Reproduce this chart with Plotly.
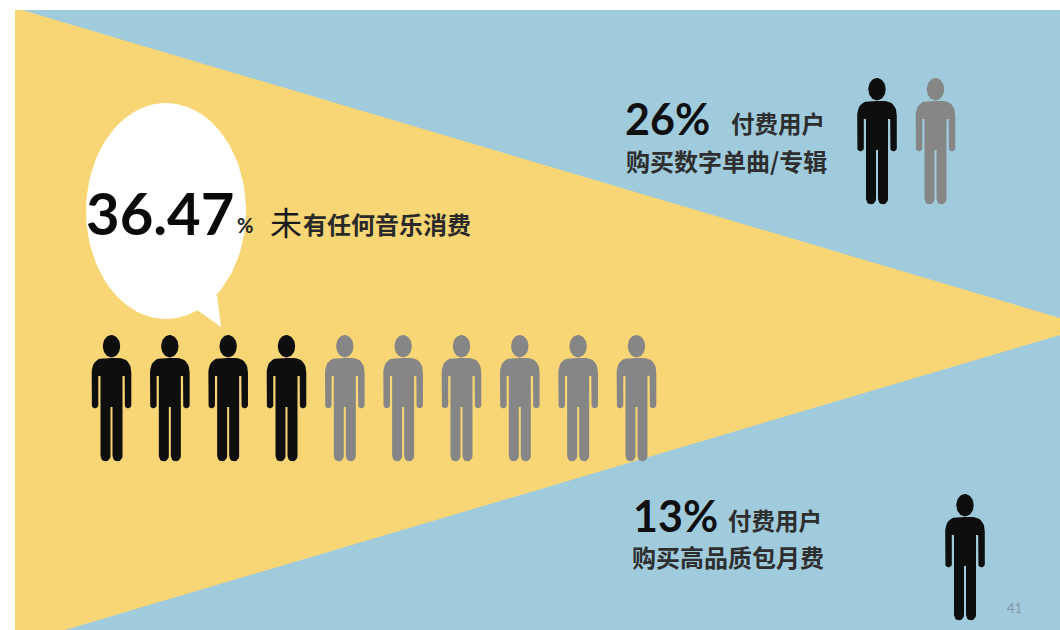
import numpy as np
import plotly.graph_objects as go

# Share of users in each group and the pictogram counts that illustrate it
no_spend_pct = "36.47"
digital_pct = "26%"
monthly_pct = "13%"
no_spend_people = [4, 6]   # black, grey
digital_people = [1, 1]
monthly_people = [1, 0]

no_spend_big = "未"
no_spend_rest = "有任何音乐消费"
paying_label = "付费用户"
digital_label = "购买数字单曲/专辑"
monthly_label = "购买高品质包月费"
page_number = "41"

BLUE = "#A0CBDD"
YELLOW = "#F8D675"
BLACK = "#0E0E0E"
GREY = "#868686"
LATIN = "Lato, 'Noto Sans', sans-serif"
CJK = "'Noto Sans CJK SC', sans-serif"

W, H = 1060, 630


def bezier(p0, p1, p2, p3, n=10):
    t = np.linspace(0, 1, n)[1:, None]
    p0, p1, p2, p3 = map(np.asarray, (p0, p1, p2, p3))
    return (1 - t) ** 3 * p0 + 3 * (1 - t) ** 2 * t * p1 + 3 * (1 - t) * t ** 2 * p2 + t ** 3 * p3


def half_outline():
    """Left half of the figure's body, from the neck to the inner leg."""
    pts = [np.array([[0.0, 23.0], [-7.0, 23.0]])]
    pts.append(bezier((-7, 23), (-15, 23), (-19.8, 28), (-19.8, 38)))
    pts.append(np.array([[-19.8, 70.0]]))
    pts.append(bezier((-19.8, 70), (-19.8, 74.5), (-13.2, 74.5), (-13.2, 70)))
    pts.append(np.array([[-13.2, 41.0], [-11.0, 41.0], [-11.0, 121.0]]))
    pts.append(bezier((-11.0, 121), (-11.0, 128), (-1.0, 128), (-1.0, 121)))
    pts.append(np.array([[-1.0, 72.0], [0.0, 72.0]]))
    return np.vstack(pts)


def person(cx, top):
    """Polygons of one standing figure: body, then head, split by a gap."""
    left = half_outline()
    right = left[::-1] * np.array([-1.0, 1.0])
    body = np.vstack([left, right])
    theta = np.linspace(0, 2 * np.pi, 48)
    xs = list(cx + body[:, 0]) + [None] + list(cx + 8.7 * np.cos(theta)) + [None]
    ys = list(top + body[:, 1]) + [None] + list(top + 11.2 + 11.2 * np.sin(theta)) + [None]
    return xs, ys


def row(counts, start, step, top):
    """Coordinates of a row of figures, split into (black, grey)."""
    out = []
    index = 0
    for count in counts:
        xs, ys = [], []
        for _ in range(count):
            px, py = person(start + index * step, top)
            xs += px
            ys += py
            index += 1
        out.append((xs, ys))
    return out


fig = go.Figure()


def polygon(xs, ys, color):
    fig.add_trace(go.Scatter(x=xs, y=ys, mode="lines", fill="toself", fillcolor=color,
                             line=dict(width=0, color=color), hoverinfo="skip", showlegend=False))


# Backdrop: blue panel with a yellow wedge narrowing to the right
polygon([15, W, W, 15, 15], [10, 10, H, H, 10], BLUE)
polygon([15, 22, W, W, 65, 15, 15], [10, 10, 318, 335, H, H, 10], YELLOW)

# Speech bubble
theta = np.linspace(0, 2 * np.pi, 120)
polygon(list(166 + 80 * np.cos(theta)), list(211 + 108 * np.sin(theta)), "#FFFFFF")
polygon([197, 221, 217, 197], [310, 327, 295, 310], "#FFFFFF")

# Pictograms
for counts, start, step, top in [
    (no_spend_people, 111.5, 58.33, 335),
    (digital_people, 877, 58.5, 78),
    (monthly_people, 965, 0, 494),
]:
    groups = row(counts, start, step, top)
    for (xs, ys), color in zip(groups, (BLACK, GREY)):
        if xs:
            polygon(xs, ys, color)


def label(x, y, text, size, family, color="#111111", bold=True):
    fig.add_annotation(x=x, y=y, xref="x", yref="y", text=text, showarrow=False,
                       xanchor="left", yanchor="middle", align="left",
                       font=dict(size=size, family=family, color=color,
                                 weight=700 if bold else 400))


label(84, 212, no_spend_pct, 58, LATIN, "#0A0A0A")
label(235, 225, "%", 20, LATIN, "#222222")
label(268, 221, no_spend_big, 32, CJK, "#1A1A1A", bold=False)
label(301, 223, no_spend_rest, 24, CJK, "#2A2A2A")

label(623, 118, digital_pct, 43, LATIN, "#0F0F0F")
label(729, 123, paying_label, 23.5, CJK, "#2E2E2E")
label(624, 160, digital_label, 24, CJK, "#2E2E2E")

label(631, 515, monthly_pct, 43, LATIN, "#0F0F0F")
label(726, 520, paying_label, 23.5, CJK, "#2E2E2E")
label(630, 556, monthly_label, 24, CJK, "#2E2E2E")

label(1005, 608, page_number, 13, LATIN, "#8698A4", bold=False)

fig.update_layout(
    width=W, height=H, margin=dict(l=0, r=0, t=0, b=0), autosize=False,
    paper_bgcolor="#FFFFFF", plot_bgcolor="#FFFFFF", showlegend=False,
    xaxis=dict(range=[0, W], visible=False, fixedrange=True),
    yaxis=dict(range=[H, 0], visible=False, fixedrange=True),
)
fig.write_html("out.html", config={"displayModeBar": False})
